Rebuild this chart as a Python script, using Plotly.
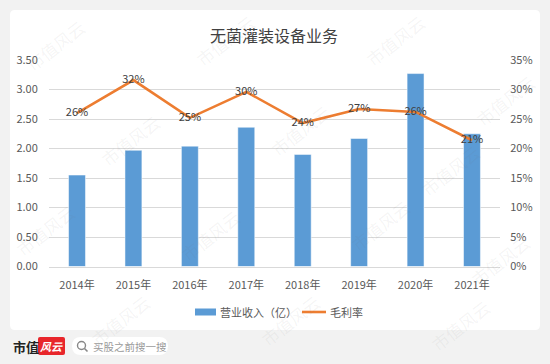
import plotly.graph_objects as go

# ---- data ----
years = ["2014年", "2015年", "2016年", "2017年", "2018年", "2019年", "2020年", "2021年"]
revenue = [1.55, 1.97, 2.04, 2.36, 1.90, 2.17, 3.27, 2.25]          # 营业收入（亿）
margin = [0.26, 0.316, 0.252, 0.296, 0.243, 0.267, 0.262, 0.214]     # 毛利率
left_ticks = [0, 0.5, 1.0, 1.5, 2.0, 2.5, 3.0, 3.5]
right_ticks = [0, 0.05, 0.10, 0.15, 0.20, 0.25, 0.30, 0.35]

W, H = 550, 364
FONT = "Noto Sans CJK SC"
BLUE = "#5B9BD5"
ORANGE = "#ED7D31"


def px(x):
    return x / W


def py(y):
    return 1 - y / H


def rrect(x0, y0, x1, y1, r):
    X0, X1 = px(x0), px(x1)
    Y0, Y1 = py(y0), py(y1)
    rx, ry = r / W, r / H
    return (f"M {X0+rx},{Y0} L {X1-rx},{Y0} Q {X1},{Y0} {X1},{Y0-ry} "
            f"L {X1},{Y1+ry} Q {X1},{Y1} {X1-rx},{Y1} L {X0+rx},{Y1} "
            f"Q {X0},{Y1} {X0},{Y1+ry} L {X0},{Y0-ry} Q {X0},{Y0} {X0+rx},{Y0} Z")


fig = go.Figure()
fig.add_trace(go.Bar(
    x=years, y=revenue, name="营业收入（亿）",
    marker=dict(color=BLUE, line=dict(color="rgba(255,255,255,0.5)", width=1)),
    yaxis="y", showlegend=False,
))
fig.add_trace(go.Scatter(
    x=years, y=margin, name="毛利率", mode="lines+text",
    line=dict(color=ORANGE, width=2.6),
    text=[f"{round(v*100)}%" for v in margin],
    textposition="middle center",
    textfont=dict(family=FONT, size=11, color="#404040"),
    yaxis="y2", showlegend=False, cliponaxis=False,
))

shapes = []
# card
shapes.append(dict(type="path", xref="paper", yref="paper", path=rrect(10, 10, 540, 330, 5),
                   fillcolor="white", line=dict(width=0), layer="below"))
# legend
shapes.append(dict(type="rect", xref="paper", yref="paper", x0=px(195), x1=px(216),
                   y0=py(315.5), y1=py(308.5), fillcolor=BLUE, line=dict(width=0)))
shapes.append(dict(type="line", xref="paper", yref="paper", x0=px(302), x1=px(326),
                   y0=py(312), y1=py(312), line=dict(color=ORANGE, width=2.6)))
# footer: red logo box
shapes.append(dict(type="path", xref="paper", yref="paper", path=rrect(38, 337, 65, 355, 2),
                   fillcolor="#E8262B", line=dict(width=0)))
# search pill
shapes.append(dict(type="path", xref="paper", yref="paper", path=rrect(72, 337, 168, 355, 9),
                   fillcolor="white", line=dict(width=0)))
# magnifier
shapes.append(dict(type="circle", xref="paper", yref="paper", x0=px(77.5), x1=px(85.5),
                   y0=py(349.5), y1=py(341.5), line=dict(color="#888888", width=1.4)))
shapes.append(dict(type="line", xref="paper", yref="paper", x0=px(84.5), x1=px(87.5),
                   y0=py(348.5), y1=py(351.5), line=dict(color="#888888", width=1.6)))

annotations = []
# watermarks
wm_pos = [(55, 45), (225, 40), (395, 40), (505, 100), (130, 140), (300, 130), (450, 170),
          (45, 230), (210, 235), (380, 225), (500, 260), (120, 320), (290, 320), (460, 325)]
for (wx, wy) in wm_pos:
    annotations.append(dict(x=px(wx), y=py(wy), xref="paper", yref="paper", text="市值风云",
                            showarrow=False, textangle=-38, xanchor="center", yanchor="middle",
                            font=dict(family=FONT, size=17, color="rgba(120,120,120,0.08)")))


def label(x, y, text, size, color, xanchor="center"):
    return dict(x=px(x), y=py(y), xref="paper", yref="paper", text=text, showarrow=False,
                xanchor=xanchor, yanchor="middle", font=dict(family=FONT, size=size, color=color))


annotations += [
    label(274, 35, "无菌灌装设备业务", 16, "#404040"),
    label(218, 312, "营业收入（亿）", 11, "#595959", "left"),
    label(328, 312, "毛利率", 11, "#595959", "left"),
    label(11, 346, "<b>市值</b>", 13, "#222222", "left"),
    label(51.5, 346, "<i><b>风云</b></i>", 11, "white"),
    label(91, 346, "买股之前搜一搜", 10.5, "#9a9a9a", "left"),
]

fig.update_layout(
    width=W, height=H, autosize=False,
    margin=dict(l=0, r=0, t=0, b=0, pad=0, autoexpand=False),
    paper_bgcolor="#f2f2f2", plot_bgcolor="rgba(0,0,0,0)",
    font=dict(family=FONT, size=11, color="#595959"),
    bargap=0.70,
    xaxis=dict(domain=[px(48.8), px(500.2)], showgrid=False, showline=True,
               linecolor="#d9d9d9", linewidth=1, ticks="", tickfont=dict(size=11, color="#595959"),
               ticklabelstandoff=8, fixedrange=True, automargin=False),
    yaxis=dict(domain=[py(266.5), py(60)], range=[0, 3.5], tickvals=left_ticks, tickformat=".2f",
               showgrid=True, gridcolor="#d9d9d9", gridwidth=1, zeroline=False, showline=False,
               ticks="", tickfont=dict(size=11, color="#595959"), ticklabelstandoff=10,
               automargin=False),
    yaxis2=dict(domain=[py(266.5), py(60)], range=[0, 0.35], tickvals=right_ticks, tickformat=".0%",
                overlaying="y", side="right", showgrid=False, zeroline=False, showline=False,
                anchor="x", ticks="", tickfont=dict(size=11, color="#595959"), ticklabelstandoff=9,
                automargin=False),
    shapes=shapes, annotations=annotations,
    showlegend=False,
)

fig.write_html("out.html", config={"displayModeBar": False},
               post_script="document.body.style.margin='0';")
